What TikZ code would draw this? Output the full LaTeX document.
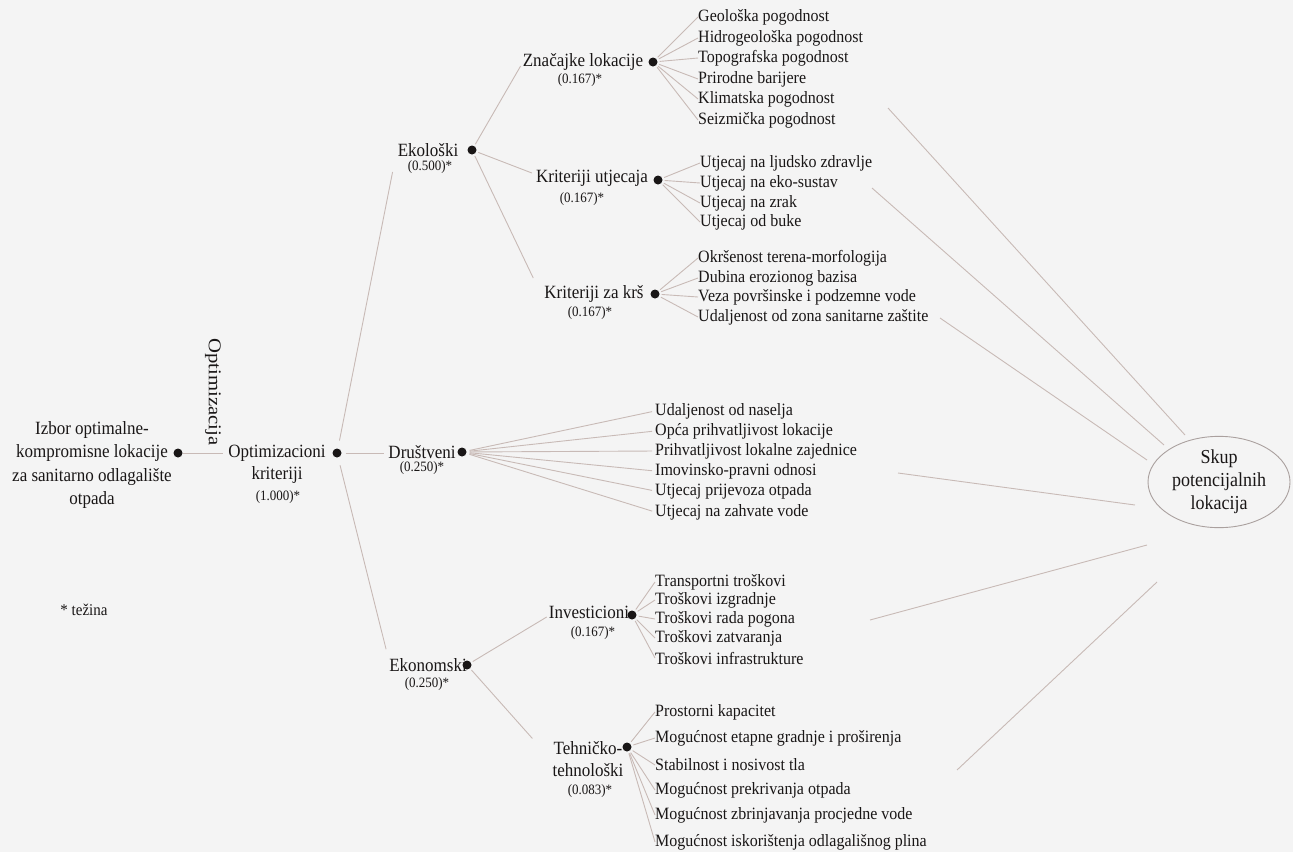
\documentclass[tikz,border=0pt]{standalone}
\usepackage{fontspec}
\setmainfont{Liberation Serif}
\usetikzlibrary{shapes.geometric,calc}
\definecolor{ink}{RGB}{25,22,22}
\definecolor{lncol}{RGB}{200,186,182}
\definecolor{ellcol}{RGB}{170,160,158}
\definecolor{bgcol}{RGB}{244,244,244}
\newcommand{\fsz}[2]{\fontsize{#1}{#2}\selectfont}
\begin{document}
\begin{tikzpicture}[x=1pt,y=-1pt,
 lbl/.style={font=\fsz{17}{20}, inner sep=0pt, text=ink, align=center, yscale=1.1},
 wt/.style={font=\fsz{13}{15}, inner sep=0pt, text=ink, yscale=1.1},
 leaf/.style={font=\fsz{16}{19}, inner sep=0pt, anchor=west, text=ink, yscale=1.08},
 dotn/.style={circle, fill=ink, inner sep=0pt, minimum size=9pt},
 ln/.style={draw=lncol, line width=0.9pt},
]
\fill[bgcol] (0,0) rectangle (1293,852);
\useasboundingbox (0,0) rectangle (1293,852);

% root
\node[lbl, font=\fsz{17}{21.5}] (izbor) at (92,465) {Izbor optimalne-\\kompromisne lokacije\\za sanitarno odlagalište\\otpada};
\node[dotn] (d0) at (178,453) {};
\node[text=ink, inner sep=0pt, rotate=-90, font=\fsz{18}{20}] (optz) at (213,392) {\scalebox{1.15}[1]{Optimizacija}};
\node[lbl] (opt) at (277,464) {Optimizacioni\\kriteriji};
\node[wt] (optw) at (278,497) {(1.000)*};
\node[dotn] (d1) at (337,453) {};

% level 1
\node[lbl] (eko) at (428,150) {Ekološki};
\node[wt] (ekow) at (430,167) {(0.500)*};
\node[dotn] (deko) at (472,150) {};

\node[lbl] (dru) at (422,452) {Društveni};
\node[wt] (druw) at (422,468) {(0.250)*};
\node[dotn] (ddru) at (462,452) {};

\node[lbl] (ekn) at (428,665) {Ekonomski};
\node[wt] (eknw) at (427,684) {(0.250)*};
\node[dotn] (dekn) at (467,665) {};

% level 2
\node[lbl] (zn) at (583,62) {Značajke lokacije};
\node[wt] (znw) at (580,80) {(0.167)*};
\node[dotn] (dzn) at (653,62) {};

\node[lbl] (ku) at (592,178) {Kriteriji utjecaja};
\node[wt] (kuw) at (582,199) {(0.167)*};
\node[dotn] (dku) at (658,180) {};

\node[lbl] (kk) at (594,294) {Kriteriji za krš};
\node[wt] (kkw) at (590,313) {(0.167)*};
\node[dotn] (dkk) at (655,294) {};

\node[lbl] (inv) at (589,612) {Investicioni};
\node[wt] (invw) at (593,633) {(0.167)*};
\node[dotn] (dinv) at (632,615) {};

\node[lbl, font=\fsz{17}{19.5}] (teh) at (588,759) {Tehničko-\\tehnološki};
\node[wt] (tehw) at (590,791) {(0.083)*};
\node[dotn] (dteh) at (627,747) {};

% root edges
\draw[ln, shorten >=5pt] (d0) -- (d0 -| opt.west);
\draw[ln, shorten <=8pt] (d1) -- ($(eko.west)+(-5,22)$);
\draw[ln, shorten <=4pt, shorten >=4pt] (d1) -- (d1 -| dru.west);
\draw[ln, shorten <=8pt] (d1) -- ($(ekn.north west)+(-3,-9)$);

% level 1 edges
\draw[ln, shorten <=2pt] (deko) -- ($(zn.west)+(-2,4)$);
\draw[ln, shorten <=2pt] (deko) -- ($(ku.west)+(-4,-5)$);
\draw[ln, shorten <=2pt] (deko) -- ($(kk.west)+(-11,-16)$);
\draw[ln, shorten <=2pt] (dekn) -- ($(inv.west)+(-2,5)$);
\draw[ln, shorten <=2pt] (dekn) -- ($(teh.north west)+(-20,-3)$);

% leaves: Značajke lokacije
\foreach \y/\t [count=\i] in {17/Geološka pogodnost, 38/Hidrogeološka pogodnost, 58/Topografska pogodnost, 79/Prirodne barijere, 99/Klimatska pogodnost, 120/Seizmička pogodnost}{
  \node[leaf] (zn\i) at (698,\y) {\t};
  \draw[ln, shorten <=2pt] (dzn) -- (zn\i.west);
}
% leaves: Kriteriji utjecaja
\foreach \y/\t [count=\i] in {163/Utjecaj na ljudsko zdravlje, 183/Utjecaj na eko-sustav, 203/Utjecaj na zrak, 222/Utjecaj od buke}{
  \node[leaf] (ku\i) at (700,\y) {\t};
  \draw[ln, shorten <=2pt] (dku) -- (ku\i.west);
}
% leaves: Kriteriji za krš
\foreach \y/\t [count=\i] in {258/Okršenost terena-morfologija, 278/Dubina erozionog bazisa, 297/Veza površinske i podzemne vode, 317/Udaljenost od zona sanitarne zaštite}{
  \node[leaf] (kk\i) at (698,\y) {\t};
  \draw[ln, shorten <=2pt] (dkk) -- (kk\i.west);
}
% leaves: Društveni
\foreach \y/\t [count=\i] in {411/Udaljenost od naselja, 431/Opća prihvatljivost lokacije, 451/Prihvatljivost lokalne zajednice, 471/Imovinsko-pravni odnosi, 491/Utjecaj prijevoza otpada, 512/Utjecaj na zahvate vode}{
  \node[leaf] (dr\i) at (655,\y) {\t};
  \draw[ln, shorten <=3pt, shorten >=3pt] (ddru) -- (dr\i.west);
}
% leaves: Investicioni
\foreach \y/\t [count=\i] in {582/Transportni troškovi, 600/Troškovi izgradnje, 619/Troškovi rada pogona, 638/Troškovi zatvaranja, 658/Troškovi infrastrukture}{
  \node[leaf] (in\i) at (655,\y) {\t};
  \draw[ln, shorten <=2pt] (dinv) -- (in\i.west);
}
% leaves: Tehničko-tehnološki
\foreach \y/\t [count=\i] in {712/Prostorni kapacitet, 738/Mogućnost etapne gradnje i proširenja, 765/Stabilnost i nosivost tla, 790/Mogućnost prekrivanja otpada, 815/Mogućnost zbrinjavanja procjedne vode, 842/Mogućnost iskorištenja odlagališnog plina}{
  \node[leaf] (te\i) at (655,\y) {\t};
  \draw[ln, shorten <=2pt] (dteh) -- (te\i.west);
}

% target
\node[ellipse, draw=ellcol, line width=0.9pt, minimum width=142pt, minimum height=83pt, inner sep=0pt, align=center, text=ink, font=\fsz{18}{21}, yscale=1.1] (skup) at (1219,482) {Skup\\potencijalnih\\lokacija};

\coordinate (s1) at (888,108);  \coordinate (e1) at (1185,435);
\coordinate (s2) at (872,188);  \coordinate (e2) at (1164,445);
\coordinate (s3) at (940,318);  \coordinate (e3) at (1147,460);
\coordinate (s4) at (898,473);  \coordinate (e4) at (1135,505);
\coordinate (s5) at (870,620);  \coordinate (e5) at (1147,545);
\coordinate (s6) at (957,770);  \coordinate (e6) at (1157,582);
\foreach \k in {1,...,6}{\draw[ln] (s\k) -- (e\k);}

\node[text=ink, font=\fsz{15}{18}, inner sep=0pt, yscale=1.1] (tez) at (84,610) {* težina};
\end{tikzpicture}
\end{document}
